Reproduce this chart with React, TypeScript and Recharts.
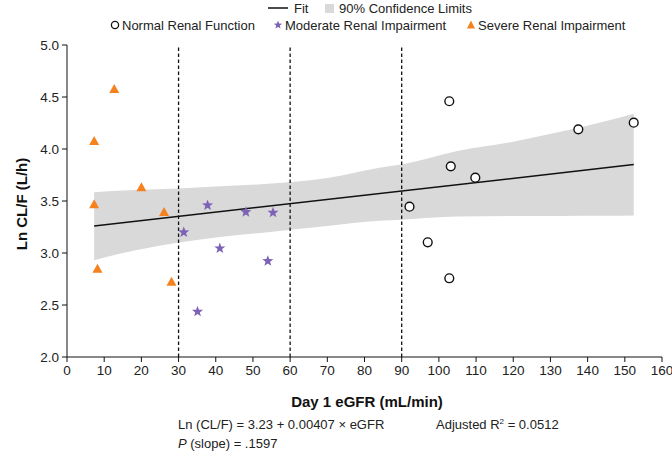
import React from 'react';
import { ComposedChart, Area, Line, Scatter, XAxis, YAxis, ReferenceLine } from 'recharts';

// values
const normalX = [92.1, 97.0, 102.8, 102.8, 103.2, 109.8, 137.5, 152.4];
const normalY = [3.445, 3.103, 4.459, 2.757, 3.833, 3.724, 4.189, 4.253];

const moderateX = [31.4, 35.1, 37.8, 41.1, 48.1, 54.0, 55.4];
const moderateY = [3.199, 2.436, 3.459, 3.045, 3.394, 2.923, 3.388];

const severeX = [7.3, 7.3, 8.2, 12.7, 20.0, 26.1, 28.1];
const severeY = [4.077, 3.468, 2.849, 4.577, 3.632, 3.394, 2.724];

const bandX = [7.3, 15, 22, 30, 40, 54, 70, 84, 90, 105, 120, 132, 145, 152.4];
const bandLow = [2.93, 3.0, 3.05, 3.1, 3.15, 3.2, 3.26, 3.31, 3.32, 3.35, 3.355, 3.356, 3.357, 3.36];
const bandHigh = [3.585, 3.6, 3.61, 3.62, 3.64, 3.665, 3.72, 3.82, 3.85, 3.98, 4.07, 4.16, 4.27, 4.34];

const fitX = [7.3, 152.4];
const fitY = [3.26, 3.85];

const xTicks = [0, 10, 20, 30, 40, 50, 60, 70, 80, 90, 100, 110, 120, 130, 140, 150, 160];
const yTicks = [2.0, 2.5, 3.0, 3.5, 4.0, 4.5, 5.0];
const cutoffs = [30, 60, 90];

const FONT = '"Liberation Sans", Arial, sans-serif';
const ORANGE = '#f5821f';
const PURPLE = '#7d62b6';
const BAND = '#d9d9da';

const pts = (xs: number[], ys: number[]) => xs.map((x, i) => ({ x, y: ys[i] }));
const normal = pts(normalX, normalY);
const moderate = pts(moderateX, moderateY);
const severe = pts(severeX, severeY);
const band = bandX.map((x, i) => ({ x, range: [bandLow[i], bandHigh[i]] }));
const fit = pts(fitX, fitY);

function starPath(cx: number, cy: number, ro: number, ri: number) {
  let d = '';
  for (let i = 0; i < 10; i++) {
    const r = i % 2 === 0 ? ro : ri;
    const a = -Math.PI / 2 + (i * Math.PI) / 5;
    d += (i === 0 ? 'M' : 'L') + (cx + r * Math.cos(a)).toFixed(2) + ',' + (cy + r * Math.sin(a)).toFixed(2);
  }
  return d + 'Z';
}

const Circle = (p: any) => <circle cx={p.cx} cy={p.cy} r={4.4} fill="#fff" stroke="#111" strokeWidth={1.4} />;
const Star = (p: any) => <path d={starPath(p.cx, p.cy, 5.8, 2.4)} fill={PURPLE} />;
const Tri = (p: any) => (
  <path d={`M${p.cx},${p.cy - 5}L${p.cx + 5},${p.cy + 4}L${p.cx - 5},${p.cy + 4}Z`} fill={ORANGE} />
);

const tickStyle = { fontSize: 13.5, fill: '#222', fontFamily: FONT };

export default function App() {
  return (
    <div style={{ position: 'absolute', left: 0, top: 0, width: 672, height: 452, background: '#fff' }}>
      <ComposedChart width={672} height={452} data={band} margin={{ top: 45, right: 10, bottom: 0, left: 0 }}>
        <XAxis
          dataKey="x"
          type="number"
          domain={[0, 160]}
          ticks={xTicks}
          interval={0}
          height={95}
          tickSize={5}
          tickMargin={3}
          tick={tickStyle}
          stroke="#111"
          allowDataOverflow
        />
        <YAxis
          type="number"
          domain={[2, 5]}
          ticks={yTicks}
          interval={0}
          width={67}
          tickSize={5}
          tickMargin={3}
          tick={tickStyle}
          stroke="#111"
          tickFormatter={(v: number) => v.toFixed(1)}
        />
        <Area dataKey="range" type="monotone" stroke="none" fill={BAND} fillOpacity={1} isAnimationActive={false} />
        {cutoffs.map((c) => (
          <ReferenceLine key={c} x={c} stroke="#111" strokeWidth={1.3} strokeDasharray="3.5 2.5" />
        ))}
        <Line data={fit} dataKey="y" type="linear" stroke="#111" strokeWidth={1.5} dot={false} isAnimationActive={false} />
        <Scatter data={severe} dataKey="y" shape={Tri} isAnimationActive={false} />
        <Scatter data={moderate} dataKey="y" shape={Star} isAnimationActive={false} />
        <Scatter data={normal} dataKey="y" shape={Circle} isAnimationActive={false} />
      </ComposedChart>
      <svg width={672} height={452} style={{ position: 'absolute', left: 0, top: 0, pointerEvents: 'none' }}>
        <g fontFamily={FONT} fontSize={13} fill="#222">
          <line x1={268} y1={8} x2={288} y2={8} stroke="#111" strokeWidth={1.5} />
          <text x={294} y={12.5}>Fit</text>
          <rect x={325} y={4} width={9} height={9} fill={BAND} />
          <text x={339} y={12.5}>90% Confidence Limits</text>
          <circle cx={115} cy={25} r={3.6} fill="#fff" stroke="#111" strokeWidth={1.3} />
          <text x={122} y={29.5}>Normal Renal Function</text>
          <path d={starPath(278, 25, 4.4, 1.9)} fill={PURPLE} />
          <text x={285} y={29.5}>Moderate Renal Impairment</text>
          <path d="M471,20.5L475,28.5L467,28.5Z" fill={ORANGE} />
          <text x={478} y={29.5}>Severe Renal Impairment</text>

          <text x={178} y={428.5}>Ln (CL/F) = 3.23 + 0.00407 × eGFR</text>
          <text x={436} y={428.5}>
            Adjusted R<tspan fontSize={8} dy={-5}>2</tspan>
            <tspan dy={5}> = 0.0512</tspan>
          </text>
          <text x={178} y={447.5}>
            <tspan fontStyle="italic">P</tspan> (slope) = .1597
          </text>
        </g>
        <text x={367} y={407} textAnchor="middle" fontFamily={FONT} fontSize={15} fontWeight="bold" fill="#111">
          Day 1 eGFR (mL/min)
        </text>
        <text
          x={0}
          y={0}
          transform="translate(27,204) rotate(-90)"
          textAnchor="middle"
          fontFamily={FONT}
          fontSize={15}
          fontWeight="bold"
          fill="#111"
        >
          Ln CL/F (L/h)
        </text>
      </svg>
    </div>
  );
}
